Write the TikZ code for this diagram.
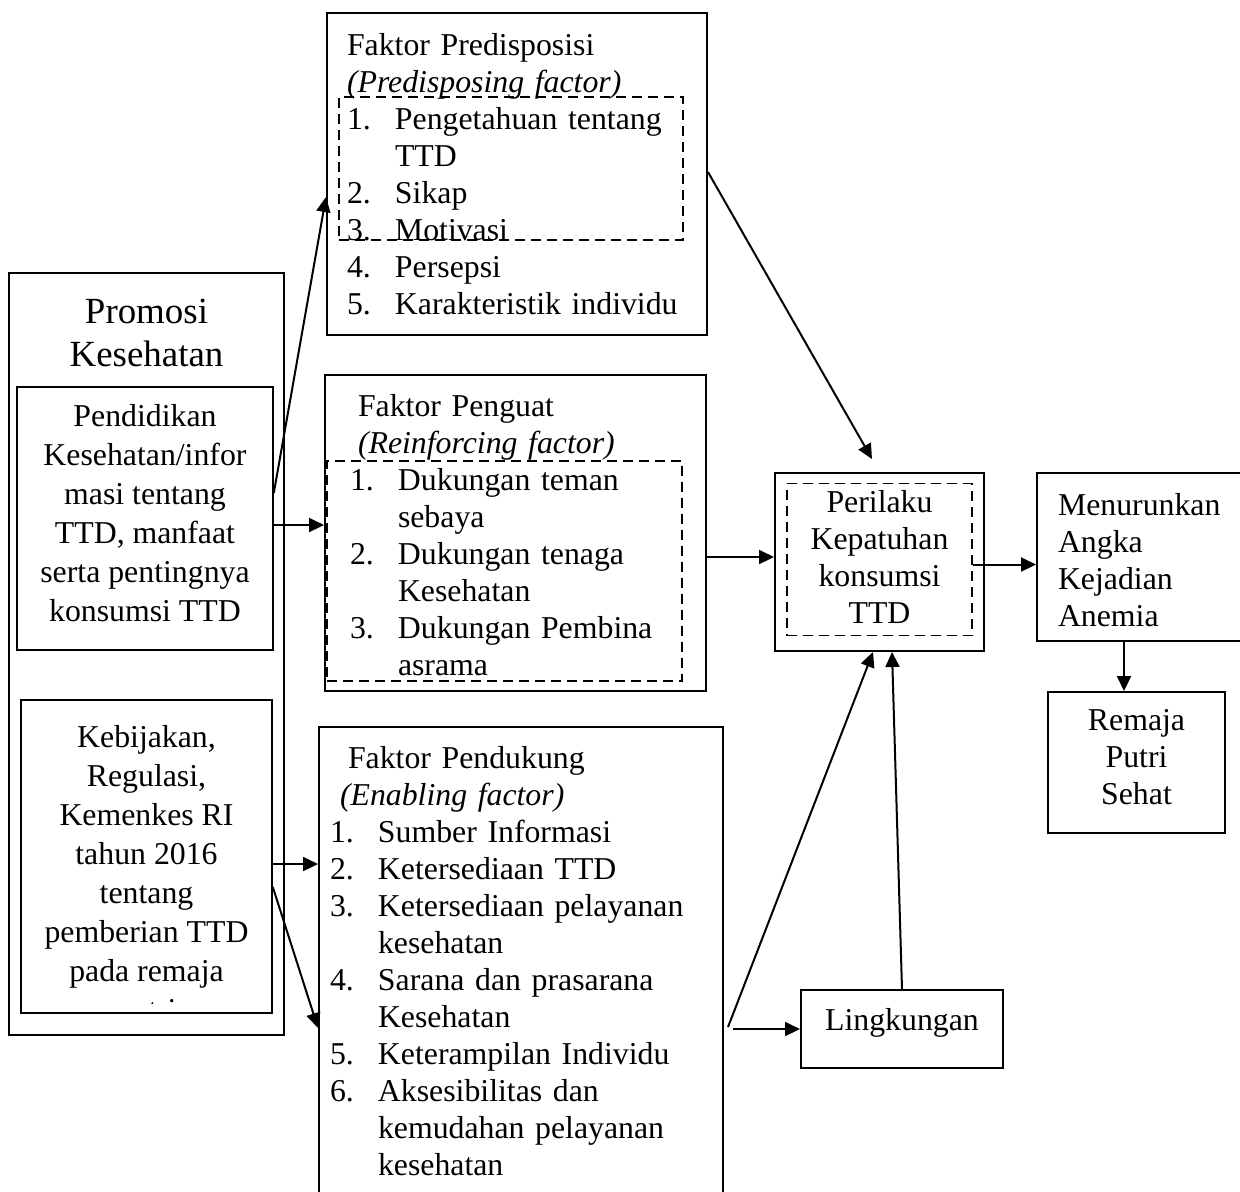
\documentclass[tikz,border=0pt]{standalone}
\usepackage{fontspec}
\setmainfont{Liberation Serif}
\usetikzlibrary{arrows.meta}

\newcommand{\nitem}[2]{\makebox[24pt][l]{#1}#2}
\newcommand{\nmore}[1]{\hspace*{24pt}#1}

\begin{document}
\begin{tikzpicture}[
    x=0.5pt, y=-0.5pt,
    every node/.style={font=\fontsize{15.9}{18.5}\selectfont},
    txt/.style={execute at begin node=\strut, execute at end node=\strut},
    drop/.style={execute at begin node={\rule{0pt}{#1}}},
    block/.style={rectangle, draw, line width=1pt, inner sep=1pt, txt},
    factor/.style={block, align=left},
    thinbox/.style={block, line width=0.8pt, align=center},
    dashbox/.style={rectangle, draw, line width=0.75pt, dash pattern=on 5pt off 3pt},
    headtext/.style={txt, align=center, font=\fontsize{18.45}{21.5}\selectfont},
    arrow/.style={-{Triangle[length=7.5pt, width=7pt]}, line width=1pt},
]
\useasboundingbox (0,0) rectangle (1240,1191);

% Promosi Kesehatan
\node[thinbox, minimum width=137.5pt, minimum height=381pt] (promosi) at (146.5,654) {};
\node[headtext] (promosititle) at (146.5,339.5) {Promosi\\Kesehatan};

\node[thinbox, font=\fontsize{15.9}{19.5}\selectfont, minimum width=128pt, minimum height=131.5pt] (pendidikan) at (145,518.5) {
    Pendidikan\\Kesehatan/infor\\masi tentang\\TTD, manfaat\\serta pentingnya\\konsumsi TTD
};

\node[thinbox, minimum width=125.5pt, minimum height=156.5pt] (kebijakan) at (146.5,856.5) {};
\begin{scope}
    \clip (kebijakan.north west) rectangle ([yshift=5pt]kebijakan.south east);
    \node[txt, align=center, font=\fontsize{15.9}{19.5}\selectfont] (kebijakantext) at (146.5,878.5) {
        Kebijakan,\\Regulasi,\\Kemenkes RI\\tahun 2016\\tentang\\pemberian TTD\\pada remaja\\putri
    };
\end{scope}

% Faktor
\node[factor, drop=16.95pt, minimum width=190pt, minimum height=161pt, text width=170pt] (predis) at (517,174) {
    Faktor Predisposisi\\
    \textit{(Predisposing factor)}\\
    \nitem{1.}{Pengetahuan tentang}\\
    \nmore{TTD}\\
    \nitem{2.}{Sikap}\\
    \nitem{3.}{Motivasi}\\
    \nitem{4.}{Persepsi}\\
    \nitem{5.}{Karakteristik individu}
};
\node[dashbox, minimum width=172pt, minimum height=71.5pt] (predisinner) at (511,168.5) {};

\node[factor, drop=18.95pt, minimum width=190.5pt, minimum height=158pt, text width=165.5pt] (penguat) at (515.5,533) {
    \hspace*{4pt}Faktor Penguat\\
    \hspace*{4pt}\textit{(Reinforcing factor)}\\
    \nitem{1.}{Dukungan teman}\\
    \nmore{sebaya}\\
    \nitem{2.}{Dukungan tenaga}\\
    \nmore{Kesehatan}\\
    \nitem{3.}{Dukungan Pembina}\\
    \nmore{asrama}
};
\node[dashbox, minimum width=177.5pt, minimum height=110pt] (penguatinner) at (504.5,571) {};

\node[factor, drop=15.95pt, minimum width=202pt, minimum height=234.5pt, text width=191pt] (pendukung) at (521,961.5) {
    \hspace*{9pt}Faktor Pendukung\\
    \hspace*{5pt}\textit{(Enabling factor)}\\
    \nitem{1.}{Sumber Informasi}\\
    \nitem{2.}{Ketersediaan TTD}\\
    \nitem{3.}{Ketersediaan pelayanan}\\
    \nmore{kesehatan}\\
    \nitem{4.}{Sarana dan prasarana}\\
    \nmore{Kesehatan}\\
    \nitem{5.}{Keterampilan Individu}\\
    \nitem{6.}{Aksesibilitas dan}\\
    \nmore{kemudahan pelayanan}\\
    \nmore{kesehatan}
};

% Perilaku and outcomes
\node[block, drop=14.95pt, align=center, minimum width=104.5pt, minimum height=89pt] (perilaku) at (879.5,562) {
    Perilaku\\Kepatuhan\\konsumsi\\TTD
};
\node[dashbox, minimum width=92.5pt, minimum height=76pt] (perilakuinner) at (879.5,559.5) {};

\node[factor, drop=19.95pt, minimum width=111.5pt, minimum height=84pt, text width=90.5pt] (menurunkan) at (1148.5,557) {
    Menurunkan\\Angka\\Kejadian\\Anemia
};
\node[block, drop=18.95pt, align=center, minimum width=88.5pt, minimum height=70.5pt] (remaja) at (1136.5,762.5) {
    Remaja\\Putri\\Sehat
};
\node[block, text height=6pt, text depth=5pt, minimum width=101pt, minimum height=39pt] (lingkungan) at (902,1029) {Lingkungan};

% Arrows from Promosi Kesehatan
\draw[arrow] ([yshift=12.75pt]pendidikan.east) -- ([yshift=-11.5pt]predis.west);
\draw[arrow] ([yshift=-3.25pt]pendidikan.east) -- ([yshift=-3.25pt]pendidikan.east -| penguat.west);
\draw[arrow] ([yshift=-3.75pt]kebijakan.east) -- ([yshift=-3.75pt]kebijakan.east -| pendukung.west);
\draw[arrow] ([yshift=-15.25pt]kebijakan.east) -- ([yshift=-33.25pt]pendukung.west);

% Arrows to Perilaku
\draw[arrow] ([yshift=1pt]predis.east) -- ([xshift=-3.75pt, yshift=6.5pt]perilaku.north);
\draw[arrow] ([yshift=-12pt]penguat.east) -- ([yshift=-12pt]penguat.east -| perilaku.west);
\draw[arrow] ([xshift=2pt, yshift=-32.75pt]pendukung.east) -- ([xshift=-3.25pt]perilaku.south);
\draw[arrow] ([xshift=4.5pt]pendukung.east |- lingkungan.west) -- (lingkungan.west);
\draw[arrow] (lingkungan.north) -- ([xshift=6.25pt]perilaku.south);

% Outcomes
\draw[arrow] ([yshift=-2.5pt]perilakuinner.east) -- ([yshift=-2.5pt]perilakuinner.east -| menurunkan.west);
\draw[arrow] ([xshift=-6.25pt]remaja.north |- menurunkan.south) -- ([xshift=-6.25pt]remaja.north);

\end{tikzpicture}
\end{document}
